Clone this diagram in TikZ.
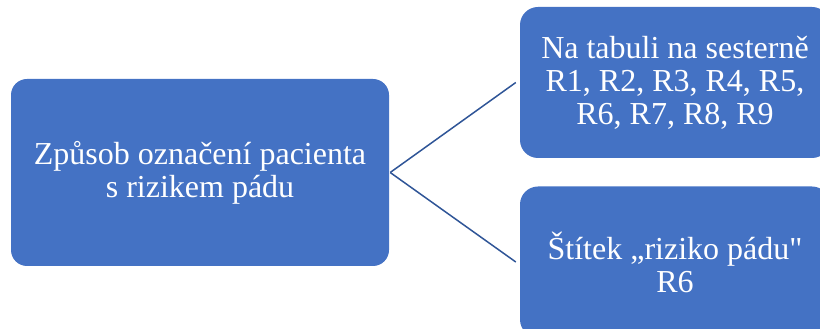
\documentclass[tikz,border=0pt]{standalone}
\usepackage{fontspec}
\setmainfont{Liberation Serif}[Ligatures=TeXOff]
\definecolor{boxblue}{HTML}{4472C4}
\definecolor{lineblue}{HTML}{2F5597}
\begin{document}
\begin{tikzpicture}[x=1pt,y=1pt,
  blockbox/.style={draw=none, fill=boxblue, rounded corners=16pt, text=white,
    align=center, font=\fontsize{32}{33}\selectfont, inner sep=0pt},
  link/.style={draw=lineblue, line width=1.5pt}]
\useasboundingbox (0,0) rectangle (820,329);
\clip (0,0) rectangle (820,329);
\node[blockbox, minimum width=378pt, minimum height=187pt] (L) at (200,156.5)
  {Způsob označení pacienta\\s rizikem pádu};
\node[blockbox, minimum width=310pt, minimum height=151pt, rounded corners=18pt] (T) at (675,246.5)
  {Na tabuli na sesterně\\R1, R2, R3, R4, R5,\\R6, R7, R8, R9};
\node[blockbox, minimum width=310pt, minimum height=151pt, rounded corners=18pt] (B) at (675,67)
  {Štítek „riziko pádu"\\R6};
\draw[link] ([xshift=1pt]L.east) -- ([xshift=-4pt]T.west);
\draw[link] ([xshift=1pt]L.east) -- ([xshift=-4pt]B.west);
\end{tikzpicture}
\end{document}
